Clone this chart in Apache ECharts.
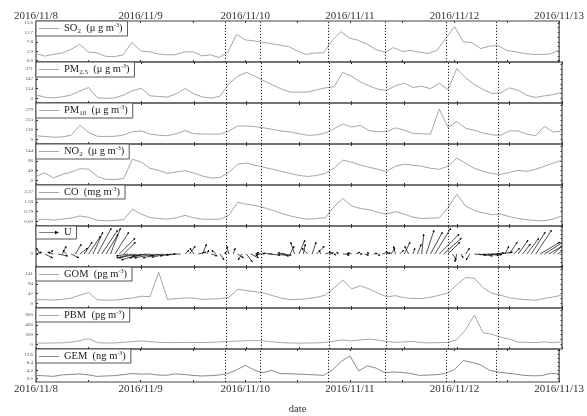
<!DOCTYPE html>
<html><head><meta charset="utf-8">
<script src="https://cdn.jsdelivr.net/npm/echarts@6/dist/echarts.min.js"></script>
<style>html,body{margin:0;padding:0;background:#fff}#c{width:587px;height:416px}</style>
</head><body><div id="c"></div>
<script>
// hours since 2016/11/8 00:00, 2-hour steps
const hours = [0,2,4,6,8,10,12,14,16,18,20,22,24,26,28,30,32,34,36,38,40,42,44,46,48,50,52,54,56,58,60,62,64,66,68,70,72,74,76,78,80,82,84,86,88,90,92,94,96,98,100,102,104,106,108,110,112,114,116,118,120];
const dateLabels = ['2016/11/8','2016/11/9','2016/11/10','2016/11/11','2016/11/12','2016/11/13'];
const dividers = [43.5, 51.5, 67, 80, 94, 105.5];

const so2 = [3.0,1.9,2.6,3.2,4.6,6.8,3.6,3.2,1.8,1.7, 2.4,7.6,4.0,3.7,2.8,2.4,2.5,3.6,3.7,2.0, 2.4,1.3,3.5,10.9,8.6,8.2,7.6,7.0,6.4,5.8, 3.9,2.6,3.2,3.3,8.6,12.0,9.3,8.4,6.8,4.6, 3.5,5.4,3.8,4.2,3.5,3.0,4.3,9.3,14.1,7.8, 7.5,5.0,6.0,6.2,4.2,3.7,3.0,2.6,2.6,2.8,4.4];
const pm25 = [48,17,8,22,45,96,140,10,2,10, 45,100,130,35,26,20,60,127,60,20, 5,30,185,280,331,280,225,170,120,83, 80,83,110,135,150,330,280,210,160,118, 105,160,195,140,155,125,195,110,380,260, 180,114,65,70,135,105,40,15,35,50,80];
const pm10 = [50,40,30,35,55,182,92,42,40,42, 60,100,110,71,55,50,75,115,75,71, 70,70,110,174,174,165,150,130,110,99, 75,55,60,85,140,200,160,182,115,100, 105,150,120,80,75,71,390,154,230,145, 120,85,60,55,112,110,70,50,170,95,112];
const no2 = [20,38,13,30,41,58,56,20,6,5, 10,104,90,60,50,35,42,48,37,22, 12,15,40,80,85,75,65,55,45,35, 25,20,25,35,60,100,90,75,65,55, 45,70,80,75,70,60,55,70,110,85, 60,45,35,30,40,50,45,55,70,85,100];
const co = [0.11,0.19,0.12,0.2,0.28,0.45,0.35,0.1,0.06,0.1, 0.15,1.0,0.6,0.32,0.25,0.2,0.3,0.5,0.3,0.19, 0.19,0.19,0.5,1.55,1.39,1.3,1.12,0.9,0.65,0.46, 0.3,0.19,0.25,0.3,1.2,1.85,1.26,1.05,0.95,0.75, 0.59,0.8,0.6,0.35,0.25,0.28,0.3,1.12,2.2,1.25, 0.9,0.7,0.55,0.6,0.4,0.25,0.15,0.08,0.06,0.2,0.46];
const gom = [19,18,17,20,26,40,53,18,16,17, 22,27,35,33,150,20,24,27,26,20, 22,23,30,68,62,57,50,38,26,19, 20,24,30,40,75,113,70,85,70,50, 32,38,28,24,24,30,40,50,90,124, 122,75,50,40,28,22,18,16,25,32,40];
const pbm = [32,30,32,35,50,80,120,40,30,35, 45,60,75,60,45,40,40,45,44,40, 45,55,65,70,78,82,75,55,40,32, 30,32,35,45,70,95,75,95,110,90, 60,45,55,63,40,35,40,45,100,300, 600,240,210,150,110,50,44,40,55,40,55];
const gem = [1.6,1.4,1.1,1.9,2.1,2.4,1.9,1.1,1.3,1.5, 2.0,2.6,2.3,2.4,1.8,1.7,2.4,2.1,1.6,1.3, 1.5,1.8,2.6,4.5,7.0,4.5,3.0,4.3,2.6,2.5, 2.3,2.1,1.9,1.6,4.5,9.0,12.0,4.0,6.7,5.5, 3.0,3.4,3.2,2.6,1.6,1.8,2.0,2.7,4.7,9.5, 8.5,7.2,4.3,3.4,2.8,2.3,1.6,1.4,1.5,2.7,2.4];

// wind vectors, hourly (m/s)
const windHours = [0,1,2,3,4,5,6,7,8,9,10,11,12,13,14,15,16,17,18,19,20,21,22,23,24,25,26,27,28,29,30,31,32,33,34,35,36,37,38,39,40,41,42,43,44,45,46,47,48,49,50,51,52,53,54,55,56,57,58,59,60,61,62,63,64,65,66,67,68,69,70,71,72,73,74,75,76,77,78,79,80,81,82,83,84,85,86,87,88,89,90,91,92,93,94,95,96,97,98,99,100,101,102,103,104,105,106,107,108,109,110,111,112,113,114,115,116,117,118,119,120];
const windU = [1.5,-1,2,1,-1.5,2.5,1,-1,2,1.5,2, 2,3,2.5,3.5,4,3,2.5,3.5,4,3, -3,-4,-4.5,-5,-4,-4.5,-5,-4,-3.5,-4,-3,-2.5,-2, 1,1.5,-1,2,1,0.5,1.5,-1,1,0.5, -0.5,0.5,1.5,-1,1.5,2,1,-1, -2,3,-2.5,3,2.5,-2, 1,-1,1.5,0.5,-1.5,1,2,-0.5,1.5, 1,0.5,-0.5,1.5,0.5,-1,1,0.5,1,-0.5,1,0.5,1.5,1, 1,-0.5,1,1.5,-1,0.5,1, 0.5,2,3,4,5,4.5,3, 1,-0.5,0.5,1,-1, 3,3.5,4,3,2.5,2,3, 1,2,1.5,2.5,2,3,3.5,4, 5,5.5,5,4.5,4,3];
const windV = [0.5,1.5,-1,1,0.5,-0.5,2,1,-1,2.5,1.5, 3,4.5,5.5,6.5,6,5,6.5,5.5,4,3, -0.5,-1,-1,-1.5,-1,-0.5,-1,-1,-0.5,-0.8,-0.5,-0.3,0, 1,2,1.5,0.5,2.5,1,-0.5,1,-1.5,0.5, 2,1.5,-1,-1.5,-2,-1,0.5,-0.5, 0,-0.3,0.2,-0.5,-0.3,0.3, 2,3,3.5,2.5,1.5,3,2,1,0.5, 0.3,-0.3,0.5,0,-0.5,0.3,0.5,0,-0.3,0.5,0.2,-0.5,0.5,0.3, 1.5,2,1,3,2,1.5,2.5, 5,6,5.5,6.5,5,4,3, -1.5,-2,-1,1.5,-1.5, -0.3,-0.5,-0.3,0,-0.2,0.3,0.5, 2,3,1.5,3.5,2.5,4,5.5,6, 3,3.5,3,4,2.5,2];

const so2Ticks = [0,3.9,7.8,11.7,15.6];
const pm25Ticks = [0,124,247,371];
const pm10Ticks = [0,126,253,379];
const no2Ticks = [0,48,96,144];
const coTicks = [0,0.79,1.58,2.37];
const uTicks = [0];
const gomTicks = [0,47,94,141];
const pbmTicks = [0,200,400,600];
const gemTicks = [0,4.2,8.4,12.6];

const panels = [
  {name:'SO2', data:so2, ticks:so2Ticks, dec:1, label:'{n|SO}{s|2}{n|  (μ g m}{p|-3}{n|)}'},
  {name:'PM2.5', data:pm25, ticks:pm25Ticks, dec:0, label:'{n|PM}{s|2.5}{n|  (μ g m}{p|-3}{n|)}'},
  {name:'PM10', data:pm10, ticks:pm10Ticks, dec:0, label:'{n|PM}{s|10}{n|  (μ g m}{p|-3}{n|)}'},
  {name:'NO2', data:no2, ticks:no2Ticks, dec:0, label:'{n|NO}{s|2}{n|  (μ g m}{p|-3}{n|)}'},
  {name:'CO', data:co, ticks:coTicks, dec:2, label:'{n|CO  (mg m}{p|-3}{n|)}'},
  {name:'U', wind:true, ticks:uTicks, dec:0, label:'{n|U}'},
  {name:'GOM', data:gom, ticks:gomTicks, dec:0, label:'{n|GOM  (pg m}{p|-3}{n|)}'},
  {name:'PBM', data:pbm, ticks:pbmTicks, dec:0, label:'{n|PBM  (pg m}{p|-3}{n|)}'},
  {name:'GEM', data:gem, ticks:gemTicks, dec:1, label:'{n|GEM  (ng m}{p|-3}{n|)}'}
];

const FONT = 'Liberation Serif';
const TOP0 = 21, PH = 41;
const grids = [], xAxes = [], yAxes = [], series = [], legends = [];

panels.forEach((p, i) => {
  const top = TOP0 + PH * i;
  grids.push({left:36, right:25, top:top, height:PH, show:true, borderColor:'#444', borderWidth:1.2, backgroundColor:'transparent'});
  let min, max, minor;
  if (i === 0) { const T = 3.9; min = -0.14*T; max = 15.6 + 0.21*T; minor = T/2; }
  else if (p.wind) { min = -3.25; max = 7; minor = 1; }
  else { const T = p.ticks[1]; min = -0.45*T; max = 3.72*T; minor = T/2; }
  const minorVals = [];
  for (let v = 0; v <= max + 1e-9; v += minor) minorVals.push(v);
  for (let v = -minor; v >= min; v -= minor) minorVals.push(v);

  const labelFmt = v => { const h = Math.round(v); return h % 24 === 0 ? dateLabels[h/24] : ''; };
  const tick = {show:true, inside:true, length:2, lineStyle:{color:'#333', width:1}};
  xAxes.push({type:'value', gridIndex:i, min:0, max:120, interval:12, position:'bottom',
    axisLine:{show:false, onZero:false}, splitLine:{show:false}, axisTick:tick,
    axisLabel:{show:i===8, formatter:labelFmt, fontFamily:FONT, fontSize:11, color:'#333', margin:2, showMinLabel:true, showMaxLabel:true, hideOverlap:false},
    name: i===8 ? 'date' : '', nameLocation:'middle', nameGap:22,
    nameTextStyle:{fontFamily:FONT, fontSize:10.5, color:'#333'}});
  xAxes.push({type:'value', gridIndex:i, min:0, max:120, interval:12, position:'top',
    axisLine:{show:false, onZero:false}, splitLine:{show:false}, axisTick:tick,
    axisLabel:{show:i===0, formatter:labelFmt, fontFamily:FONT, fontSize:11, color:'#333', margin:-1, showMinLabel:true, showMaxLabel:true, hideOverlap:false}});

  yAxes.push({type:'value', gridIndex:i, position:'left', min:min, max:max,
    axisLine:{show:false, onZero:false}, splitLine:{show:false},
    axisTick:{show:true, inside:true, length:2, customValues:p.ticks, lineStyle:{color:'#333'}},
    axisLabel:{show:true, customValues:p.ticks, formatter:v=>v.toFixed(p.dec), fontSize:5, fontFamily:FONT, color:'#555', margin:3}});
  yAxes.push({type:'value', gridIndex:i, position:'right', min:min, max:max,
    axisLine:{show:false, onZero:false}, splitLine:{show:false},
    axisTick:{show:true, inside:true, length:1.5, customValues:minorVals, lineStyle:{color:'#333'}},
    axisLabel:{show:false}});

  const markLine = {silent:true, symbol:'none', label:{show:false},
    lineStyle:{type:[1.2,1.8], color:'#222', width:1},
    data: dividers.map(h => ({xAxis:h}))};

  if (p.wind) {
    series.push({type:'custom', name:p.name, xAxisIndex:2*i, yAxisIndex:2*i, clip:true,
      itemStyle:{color:'#000'},
      data: windHours.map((h,k) => [h, windU[k], windV[k]]),
      encode:{x:0, y:2},
      renderItem: function(params, api){
        const h = api.value(0), u = api.value(1), v = api.value(2);
        const p0 = api.coord([h, 0]);
        const s = api.size([1,1])[1];
        const p1 = [p0[0] + u*s, p0[1] - v*s];
        const dx = p1[0]-p0[0], dy = p1[1]-p0[1];
        const len = Math.sqrt(dx*dx+dy*dy) || 1;
        const ux = dx/len, uy = dy/len, hs = 2, hw = 1.1;
        const a = [p1[0]-ux*hs-uy*hw, p1[1]-uy*hs+ux*hw];
        const b = [p1[0]-ux*hs+uy*hw, p1[1]-uy*hs-ux*hw];
        return {type:'group', children:[
          {type:'line', shape:{x1:p0[0], y1:p0[1], x2:p1[0], y2:p1[1]}, style:{stroke:'#000', lineWidth:0.7}},
          {type:'polygon', shape:{points:[p1,a,b]}, style:{fill:'#000'}}
        ]};
      },
      markLine: markLine});
  } else {
    series.push({type:'line', name:p.name, xAxisIndex:2*i, yAxisIndex:2*i,
      data: hours.map((h,k) => [h, p.data[k]]),
      showSymbol:false, symbol:'none', clip:true,
      lineStyle:{color: i===8 ? '#8a8a8a' : '#a6a6a6', width:1},
      itemStyle:{color: i===8 ? '#8a8a8a' : '#a6a6a6'},
      markLine: markLine});
  }

  legends.push({data:[p.name], left:36, top:top, orient:'horizontal',
    backgroundColor:'#fff', borderColor:'#555', borderWidth:1, padding:[1,5,1,3],
    itemWidth:20, itemHeight: p.wind ? 5 : 1,
    icon: p.wind ? 'path://M0,4.7L16,4.7L16,3.2L20,5L16,6.8L16,5.3L0,5.3Z' : 'rect',
    selectedMode:false,
    formatter: () => p.label,
    textStyle:{rich:{
      n:{fontFamily:FONT, fontSize:10.5, color:'#222', lineHeight:13, verticalAlign:'middle'},
      s:{fontFamily:FONT, fontSize:7, color:'#222', lineHeight:13, verticalAlign:'bottom'},
      p:{fontFamily:FONT, fontSize:6, color:'#222', lineHeight:13, verticalAlign:'top'}
    }}});
});

const chart = echarts.init(document.getElementById('c'), null, {renderer:'canvas'});
chart.setOption({animation:false, backgroundColor:'#fff', grid:grids, xAxis:xAxes, yAxis:yAxes, series:series, legend:legends});
</script></body></html>
